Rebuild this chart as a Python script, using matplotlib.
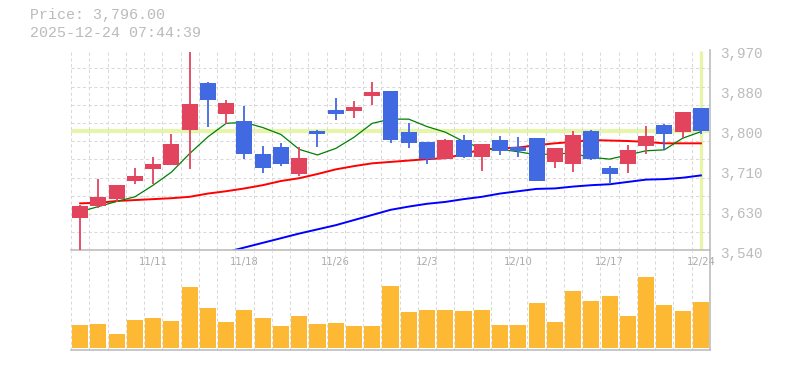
import matplotlib
matplotlib.use('Agg')
import matplotlib.pyplot as plt
from matplotlib.transforms import ScaledTranslation
import numpy as np

# daily candles, 11/5 .. 12/24 (11/24 holiday)
dates = ['11/5', '11/6', '11/7', '11/10', '11/11', '11/12', '11/13', '11/14',
         '11/17', '11/18', '11/19', '11/20', '11/21', '11/25', '11/26', '11/27',
         '11/28', '12/1', '12/2', '12/3', '12/4', '12/5', '12/8', '12/9',
         '12/10', '12/11', '12/12', '12/15', '12/16', '12/17', '12/18', '12/19',
         '12/22', '12/23', '12/24']
opens = [3610, 3635, 3650, 3688, 3715, 3724, 3799, 3900, 3834, 3818, 3747, 3762,
         3705, 3797, 3842, 3840, 3872, 3883, 3794, 3773, 3736, 3777, 3741, 3777,
         3762, 3781, 3730, 3726, 3797, 3717, 3726, 3765, 3809, 3795, 3846]
highs = [3637, 3693, 3681, 3716, 3741, 3790, 3967, 3902, 3863, 3850, 3764, 3771,
         3762, 3799, 3867, 3861, 3902, 3883, 3814, 3773, 3779, 3788, 3769, 3786,
         3784, 3781, 3760, 3797, 3799, 3721, 3766, 3807, 3812, 3837, 3846]
lows = [3536, 3632, 3643, 3683, 3683, 3724, 3715, 3806, 3812, 3736, 3707, 3722,
        3700, 3763, 3820, 3825, 3852, 3771, 3760, 3726, 3736, 3738, 3711, 3745,
        3741, 3689, 3718, 3708, 3734, 3683, 3707, 3746, 3756, 3782, 3789]
closes = [3635, 3655, 3680, 3700, 3726, 3769, 3855, 3864, 3857, 3746, 3716, 3726,
          3738, 3789, 3834, 3848, 3880, 3777, 3771, 3736, 3777, 3741, 3769, 3754,
          3754, 3689, 3760, 3788, 3736, 3704, 3756, 3786, 3791, 3837, 3796]
volumes = [690, 720, 420, 840, 900, 810, 1830, 1200, 780, 1140, 900, 660,
           960, 720, 750, 660, 660, 1860, 1080, 1140, 1140, 1110, 1140, 690,
           690, 1350, 780, 1710, 1410, 1560, 960, 2130, 1290, 1110, 1380]
ma_short = [3623, 3634, 3645, 3655, 3680, 3708, 3748, 3784, 3813, 3815, 3804, 3789,
            3757, 3745, 3759, 3783, 3813, 3822, 3822, 3806, 3794, 3774, 3759, 3757,
            3752, 3745, 3748, 3748, 3740, 3736, 3745, 3754, 3756, 3781, 3795]
ma_mid = [3641, 3642, 3646, 3648, 3650, 3652, 3655, 3662, 3667, 3673, 3680, 3689,
          3695, 3704, 3714, 3721, 3727, 3730, 3733, 3736, 3738, 3747, 3757, 3759,
          3761, 3766, 3770, 3773, 3777, 3776, 3775, 3773, 3770, 3770, 3770]
ma_long = [np.nan] * 8 + [3536, 3546, 3556, 3566, 3576, 3585, 3594, 3605, 3616,
                          3627, 3634, 3640, 3644, 3650, 3655, 3662, 3667, 3672,
                          3673, 3677, 3680, 3682, 3687, 3692, 3693, 3696, 3701]
timestamp = '2025-12-24 07:44:39'

up_color = '#e2445e'
down_color = '#4169e1'
grid_color = '#d9d9d9'
frame_color = '#bdbdbd'
text_color = '#bbbbbb'
hl_color = '#e6f5aa'

x = np.arange(len(dates))
o = np.array(opens)
c = np.array(closes)
colors = [up_color if cc >= oo else down_color for oo, cc in zip(o, c)]
ymin, ymax = 3540, 3970

fig = plt.figure(figsize=(7.85, 3.7), dpi=100)
ax = fig.add_axes([71 / 785, 1 - 250.3 / 370, 639 / 785, 200 / 370])
axv = fig.add_axes([71 / 785, 1 - 350 / 370, 639 / 785, 99 / 370])
axv.set_facecolor('none')

# price panel
ax.axhline(closes[-1], color=hl_color, lw=3, zorder=1)
ax.vlines(x[-1], ymin + 1, ymax - 1, color=hl_color, lw=2.4, zorder=1)
ax.plot(x, ma_mid, color='#ff0000', lw=1.4, zorder=2)
ax.plot(x, ma_long, color='#0000ff', lw=1.4, zorder=2)
ax.plot(x, ma_short, color='#008000', lw=0.9, zorder=2)
ax.vlines(x, lows, highs, color=colors, lw=1.3, zorder=3)
ax.bar(x, np.abs(c - o), bottom=np.minimum(o, c), width=0.875, color=colors, zorder=4)

ax.set_xlim(-0.5, len(x) - 0.5)
ax.set_ylim(ymin, ymax)
ax.set_xticks(np.arange(-0.5, len(x), 1), minor=True)
ax.set_yticks(np.linspace(ymin, ymax, 12), minor=True)
label_idx = x[::-1][::5][::-1]
ax.set_xticks(label_idx)
ax.set_xticklabels([dates[i] for i in label_idx])
yt = np.linspace(ymin, ymax, 6)
ax.set_yticks(yt)
ax.set_yticklabels([f'{int(round(v, -1)):,}' for v in yt])
ax.yaxis.tick_right()
ax.grid(which='minor', color=grid_color, lw=0.75, linestyle=(0, (3, 2.5)))
ax.grid(which='major', visible=False)
ax.tick_params(which='both', length=0)
ax.tick_params(axis='y', pad=7, labelsize=10.3, labelcolor=text_color)
ax.tick_params(axis='x', pad=4.5, labelsize=7.2, labelcolor='#aaaaaa')
for lab in ax.get_yticklabels():
    lab.set_fontfamily('Liberation Mono')
    lab.set_transform(lab.get_transform() + ScaledTranslation(0, -2.5 / 100, fig.dpi_scale_trans))
for lab in ax.get_xticklabels():
    lab.set_fontfamily('DejaVu Sans')
for s in ['left', 'top']:
    ax.spines[s].set_visible(False)
for s in ['right', 'bottom']:
    ax.spines[s].set_color(frame_color)
    ax.spines[s].set_linewidth(1.2)

# volume panel
vmax = max(volumes)
axv.bar(x, volumes, width=0.88, color='#fdb933', zorder=2)
axv.set_xlim(-0.5, len(x) - 0.5)
axv.set_ylim(-vmax * 2 / 71, vmax * 97 / 71)
axv.set_xticks(np.arange(-0.5, len(x), 1))
axv.set_xticklabels([])
axv.set_yticks([])
axv.grid(axis='x', color=grid_color, lw=0.75, linestyle=(0, (3, 2.5)))
axv.tick_params(length=0)
for s in ['left', 'top']:
    axv.spines[s].set_visible(False)
for s in ['right', 'bottom']:
    axv.spines[s].set_color(frame_color)
    axv.spines[s].set_linewidth(1.2)

fig.text(30 / 785, 1 - 15 / 370, f'Price: {closes[-1]:,.2f}', va='center',
         family='Liberation Mono', fontsize=10.8, color=text_color)
fig.text(30 / 785, 1 - 33 / 370, timestamp, va='center',
         family='Liberation Mono', fontsize=10.8, color=text_color)

fig.savefig('out.png', dpi=100)
